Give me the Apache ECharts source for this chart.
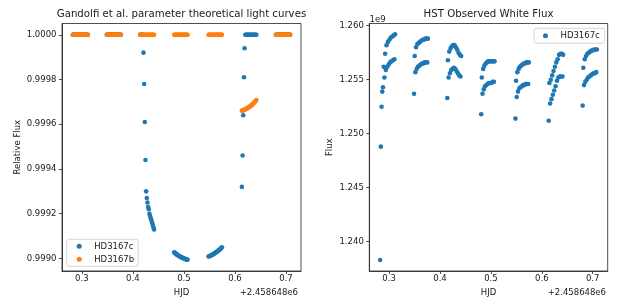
<!DOCTYPE html>
<html><head><meta charset="utf-8">
<script src="https://cdn.jsdelivr.net/npm/echarts@6/dist/echarts.min.js"></script>
<style>html,body{margin:0;padding:0;background:#fff}#c{width:626px;height:307px}</style>
</head><body><div id="c"></div>
<script>
// HJD - 2458648 (seven HST orbits)
const hjd = [
  0.2824,0.2838,0.2852,0.2866,0.2880,0.2894,0.2908,0.2922,0.2936,0.2950,0.2964,0.2978,0.2992,0.3006,0.3020,0.3034,0.3048,0.3062,0.3076,0.3090,0.3104,0.3118,
  0.3490,0.3503,0.3516,0.3529,0.3542,0.3555,0.3568,0.3581,0.3594,0.3607,0.3620,0.3633,0.3646,0.3659,0.3672,0.3685,0.3698,0.3711,0.3724,0.3737,0.3750,0.3763,
  0.4143,0.4156,0.4169,0.4182,0.4195,0.4208,0.4221,0.4234,0.4247,0.4260,0.4273,0.4286,0.4299,0.4312,0.4325,0.4338,0.4351,0.4364,0.4377,0.4390,0.4403,0.4416,
  0.4810,0.4822,0.4835,0.4848,0.4860,0.4872,0.4885,0.4898,0.4910,0.4922,0.4935,0.4948,0.4960,0.4972,0.4985,0.4998,0.5010,0.5022,0.5035,0.5048,0.5060,0.5072,
  0.5483,0.5495,0.5508,0.5520,0.5533,0.5545,0.5558,0.5570,0.5583,0.5595,0.5608,0.5620,0.5633,0.5645,0.5658,0.5670,0.5683,0.5695,0.5708,0.5720,0.5733,0.5745,
  0.6136,0.6150,0.6163,0.6177,0.6190,0.6204,0.6217,0.6231,0.6244,0.6258,0.6271,0.6285,0.6298,0.6312,0.6325,0.6339,0.6352,0.6366,0.6379,0.6393,0.6406,0.6420,
  0.6803,0.6816,0.6830,0.6843,0.6856,0.6870,0.6883,0.6896,0.6909,0.6923,0.6936,0.6949,0.6963,0.6976,0.6989,0.7002,0.7016,0.7029,0.7042,0.7056,0.7069,0.7082
];
// Theoretical relative flux, HD3167c
const modelC = [
  1,1,1,1,1,1,1,1,1,1,1,1,1,1,1,1,1,1,1,1,1,1,
  1,1,1,1,1,1,1,1,1,1,1,1,1,1,1,1,1,1,1,1,1,1,
  1,1,1,1,1,0.99992,0.99978,0.99961,0.99944,0.99930,0.99927,0.99925,0.99923,0.99922,0.99920,0.99919,0.99918,0.99917,0.99916,0.99915,0.99914,0.99913,
  0.999028,0.999025,0.999023,0.999020,0.999018,0.999016,0.999014,0.999012,0.999010,0.999009,0.999007,0.999006,0.999004,0.999003,0.999002,0.999000,0.998999,0.998998,0.998997,0.998996,0.998995,0.998994,
  0.999009,0.999010,0.999011,0.999012,0.999014,0.999015,0.999017,0.999018,0.999020,0.999022,0.999024,0.999026,0.999028,0.999030,0.999032,0.999034,0.999036,0.999039,0.999041,0.999044,0.999047,0.999050,
  0.99932,0.99946,0.99964,0.99981,0.99994,1,1,1,1,1,1,1,1,1,1,1,1,1,1,1,1,1,
  1,1,1,1,1,1,1,1,1,1,1,1,1,1,1,1,1,1,1,1,1,1
];
// Theoretical relative flux, HD3167b
const modelB = [
  1,1,1,1,1,1,1,1,1,1,1,1,1,1,1,1,1,1,1,1,1,1,
  1,1,1,1,1,1,1,1,1,1,1,1,1,1,1,1,1,1,1,1,1,1,
  1,1,1,1,1,1,1,1,1,1,1,1,1,1,1,1,1,1,1,1,1,1,
  1,1,1,1,1,1,1,1,1,1,1,1,1,1,1,1,1,1,1,1,1,1,
  1,1,1,1,1,1,1,1,1,1,1,1,1,1,1,1,1,1,1,1,1,1,
  0.999660,0.999661,0.999662,0.999664,0.999665,0.999667,0.999668,0.999670,0.999672,0.999674,0.999676,0.999678,0.999680,0.999682,0.999685,0.999688,0.999691,0.999694,0.999697,0.999700,0.999704,0.999708,
  1,1,1,1,1,1,1,1,1,1,1,1,1,1,1,1,1,1,1,1,1,1
];
// HST observed white-light flux, in units of 1e9
const observedFlux = [
  1.2383,1.2488,1.2525,1.2539,1.2543,1.2562,1.2552,1.2574,1.2559,1.2582,1.2562,1.2585,1.2564,1.2587,1.2566,1.2589,1.2567,1.2590,1.2568,1.2591,1.2569,1.2592,
  1.2537,1.2572,1.2557,1.2580,1.2560,1.2583,1.2562,1.2584,1.2563,1.2585,1.2564,1.2586,1.2565,1.2587,1.2565,1.2587,1.2566,1.2588,1.2566,1.2588,1.2566,1.2588,
  1.2533,1.2568,1.2552,1.2576,1.2556,1.2579,1.2559,1.2581,1.2560,1.2582,1.2561,1.2582,1.2560,1.2580,1.2558,1.2578,1.2556,1.2575,1.2554,1.2573,1.2553,1.2572,
  1.2518,1.2552,1.2537,1.2560,1.2541,1.2563,1.2544,1.2565,1.2545,1.2566,1.2546,1.2567,1.2547,1.2567,1.2547,1.2567,1.2547,1.2567,1.2548,1.2567,1.2548,1.2567,
  1.2514,1.2549,1.2534,1.2557,1.2539,1.2560,1.2542,1.2562,1.2543,1.2563,1.2544,1.2564,1.2545,1.2565,1.2545,1.2565,1.2546,1.2566,1.2546,1.2566,1.2546,1.2566,
  1.2512,1.2547,1.2528,1.2550,1.2532,1.2554,1.2536,1.2558,1.2540,1.2562,1.2544,1.2566,1.2549,1.2569,1.2552,1.2573,1.2553,1.2574,1.2553,1.2574,1.2553,1.2573,
  1.2526,1.2561,1.2545,1.2569,1.2548,1.2572,1.2550,1.2574,1.2552,1.2575,1.2553,1.2576,1.2554,1.2577,1.2555,1.2577,1.2556,1.2578,1.2556,1.2578,1.2557,1.2578
];
const xTicks = [0.3, 0.4, 0.5, 0.6, 0.7];
const relFluxTicks = [0.9990, 0.9992, 0.9994, 0.9996, 0.9998, 1.0000];
const fluxTicks = [1.240, 1.245, 1.250, 1.255, 1.260];
const leftNames = ['HD3167c', 'HD3167b'];
const rightNames = ['HD3167c'];
const titles = ['Gandolfi et al. parameter theoretical light curves', 'HST Observed White Flux'];

const FONT = 'DejaVu Sans';
const FS = 8.5;
const TXT = '#1a1a1a';
const AX = '#222';
const BLUE = '#1f77b4', ORANGE = '#ff7f0e';
const pairs = (xs, ys) => xs.map((x, i) => [x, ys[i]]);

function xAxisCfg(gi) {
  return {
    gridIndex: gi, type: 'value', min: 0.26111, max: 0.72949,
    axisLine: {show: true, onZero: false, lineStyle: {color: AX, width: 0.8}},
    axisTick: {show: true, length: 3, customValues: xTicks, lineStyle: {color: AX, width: 0.8}},
    axisLabel: {customValues: xTicks, formatter: v => v.toFixed(1), fontSize: FS, fontFamily: FONT, color: TXT, margin: 3.5},
    splitLine: {show: false},
    name: 'HJD', nameLocation: 'middle', nameGap: 16.5,
    nameTextStyle: {fontSize: FS, fontFamily: FONT, color: TXT}
  };
}
function yAxisCfg(gi, min, max, ticks, dec, name, gap) {
  return {
    gridIndex: gi, type: 'value', min: min, max: max,
    axisLine: {show: true, onZero: false, lineStyle: {color: AX, width: 0.8}},
    axisTick: {show: true, length: 3, customValues: ticks, lineStyle: {color: AX, width: 0.8}},
    axisLabel: {customValues: ticks, formatter: v => v.toFixed(dec), fontSize: FS, fontFamily: FONT, color: TXT, margin: 5.5},
    splitLine: {show: false},
    name: name, nameLocation: 'middle', nameGap: gap,
    nameTextStyle: {fontSize: FS, fontFamily: FONT, color: TXT}
  };
}
const legendCommon = {
  orient: 'vertical', itemWidth: 20, itemHeight: 5, itemGap: 3, icon: 'circle',
  borderColor: '#cccccc', borderWidth: 0.8, borderRadius: 2.5,
  backgroundColor: 'rgba(255,255,255,0.8)', selectedMode: false,
  textStyle: {fontSize: FS, fontFamily: FONT, color: TXT, lineHeight: 10}
};

const chart = echarts.init(document.getElementById('c'), null, {renderer: 'canvas'});
chart.setOption({
  animation: false,
  backgroundColor: '#fff',
  title: [
    {text: titles[0], left: 181.5, top: 9.5, textAlign: 'center', padding: 0,
     textStyle: {fontSize: 10.2, fontWeight: 'normal', fontFamily: FONT, color: TXT}},
    {text: titles[1], left: 488.5, top: 9.5, textAlign: 'center', padding: 0,
     textStyle: {fontSize: 10.2, fontWeight: 'normal', fontFamily: FONT, color: TXT}}
  ],
  grid: [
    {left: 62, top: 23.5, width: 239, height: 247.5, show: true, borderColor: AX, borderWidth: 0.8},
    {left: 369.3, top: 23.5, width: 238.4, height: 247.5, show: true, borderColor: AX, borderWidth: 0.8}
  ],
  xAxis: [xAxisCfg(0), xAxisCfg(1)],
  yAxis: [
    yAxisCfg(0, 0.998944, 1.0000503, relFluxTicks, 4, 'Relative Flux', 40),
    yAxisCfg(1, 1.237287, 1.260204, fluxTicks, 3, 'Flux', 35)
  ],
  legend: [
    Object.assign({}, legendCommon, {data: leftNames, left: 66.7, top: 239.3, padding: [2, 4, 2, 10]}),
    Object.assign({}, legendCommon, {data: rightNames, left: 534, top: 28.3, padding: [2.5, 5, 2.5, 9]})
  ],
  graphic: [
    {type: 'text', x: 298, y: 292.7, style: {text: '+2.458648e6', fontSize: FS, fontFamily: FONT, fill: TXT, align: 'right', verticalAlign: 'middle'}},
    {type: 'text', x: 606, y: 292.7, style: {text: '+2.458648e6', fontSize: FS, fontFamily: FONT, fill: TXT, align: 'right', verticalAlign: 'middle'}},
    {type: 'text', x: 369.5, y: 19.3, style: {text: '1e9', fontSize: FS, fontFamily: FONT, fill: TXT, align: 'left', verticalAlign: 'middle'}}
  ],
  series: [
    {name: leftNames[0], type: 'scatter', xAxisIndex: 0, yAxisIndex: 0, symbolSize: 4.6,
     itemStyle: {color: BLUE, opacity: 1}, data: pairs(hjd, modelC)},
    {name: leftNames[1], type: 'scatter', xAxisIndex: 0, yAxisIndex: 0, symbolSize: 4.6,
     itemStyle: {color: ORANGE, opacity: 1}, data: pairs(hjd, modelB)},
    {name: rightNames[0], type: 'scatter', xAxisIndex: 1, yAxisIndex: 1, symbolSize: 4.6,
     itemStyle: {color: BLUE, opacity: 1}, data: pairs(hjd, observedFlux)}
  ]
});
</script></body></html>
